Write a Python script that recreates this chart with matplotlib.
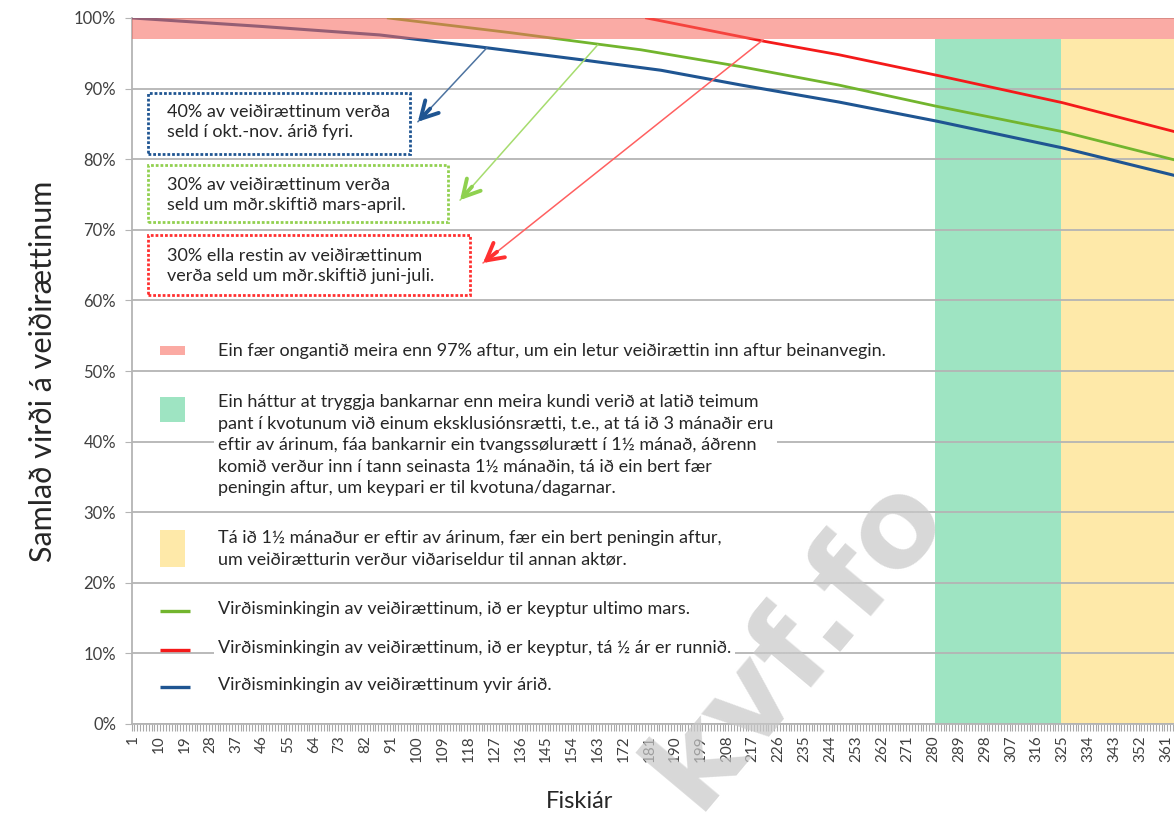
import numpy as np
import matplotlib.pyplot as plt
import matplotlib.patches as mpatches
from matplotlib.ticker import FixedLocator, FuncFormatter

plt.rcParams['font.family'] = ['Lato', 'DejaVu Sans']

# days of the fishing year and value remaining (%) for each purchase time
days = np.arange(1, 366)
blue_days = [1, 46, 87, 122, 157, 185, 213, 247, 281, 325, 365]
blue_vals = [100, 98.8, 97.6, 95.9, 94.1, 92.6, 90.5, 88.1, 85.4, 81.6, 77.6]
green_days = [90, 133, 163, 178, 213, 247, 281, 325, 365]
green_vals = [100, 97.9, 96.3, 95.5, 93.1, 90.5, 87.5, 83.9, 79.8]
red_days = [180, 221, 247, 281, 325, 365]
red_vals = [100, 96.7, 94.8, 91.9, 88.0, 83.8]

cap_level = 97                 # never more than 97% back
pledge_days = (281, 324)       # banks' forced-sale window
last_days = (325, 365)         # last 1½ month

tick_days = list(range(1, 366, 9))
y_ticks = list(range(0, 101, 10))

c_blue = "#1f5592"
c_green = "#72b52e"
c_red = "#f41a1a"
c_pink = "#f7665c"
c_mint = "#9ee4c2"
c_sand = "#fee9a9"
c_text = "#262626"
fs = 13

fig = plt.figure(figsize=(11.74, 8.18), dpi=100)
ax = fig.add_axes([131.5 / 1174, 94 / 818, 1047.3 / 1174, 706 / 818])

ax.axvspan(pledge_days[0] - 0.5, pledge_days[1] + 0.5, ymax=cap_level / 100,
           color=c_mint, lw=0, zorder=1)
ax.axvspan(last_days[0] - 0.5, last_days[1] + 0.5, ymax=cap_level / 100,
           color=c_sand, lw=0, zorder=1)

ax.plot(blue_days, blue_vals, color=c_blue, lw=2.2, zorder=3)
ax.plot(green_days, green_vals, color=c_green, lw=2.0, zorder=3)
ax.plot(red_days, red_vals, color=c_red, lw=2.0, zorder=3)

ax.fill_between([0.5, 365.5], cap_level, 100, color=c_pink, alpha=0.55,
                lw=0, zorder=4)

ax.set_xlim(0.5, 365.5)
ax.set_ylim(0, 100)

# axes, grid and ticks
ax.set_axisbelow('line')
ax.yaxis.grid(True, color="#b4b4b4", lw=1.3)
for s in ['top', 'right']:
    ax.spines[s].set_visible(False)
for s in ['left', 'bottom']:
    ax.spines[s].set_color("#b4b4b4")
    ax.spines[s].set_linewidth(1.3)

ax.yaxis.set_major_locator(FixedLocator(y_ticks))
ax.yaxis.set_major_formatter(FuncFormatter(lambda v, p: "{:.0f}%".format(v)))
ax.tick_params(axis='y', length=5, color="#b4b4b4", labelsize=12,
               labelcolor="#404040", pad=6)

ax.xaxis.set_major_locator(FixedLocator(tick_days))
ax.xaxis.set_major_formatter(FuncFormatter(lambda v, p: "{:.0f}".format(v)))
ax.xaxis.set_minor_locator(FixedLocator(np.append(days - 0.5, 365.5)))
ax.tick_params(axis='x', which='major', length=0, labelsize=11,
               labelcolor="#404040", labelrotation=90, pad=8)
ax.tick_params(axis='x', which='minor', length=5, color="#a8a8a8", width=0.8)

ax.set_ylabel("Samlað virði á veiðirættinum", fontsize=22, color=c_text,
              labelpad=12)
fig.text(580 / 1174, 1 - 802 / 818, "Fiskiár", fontsize=17, color=c_text,
         ha='center', va='center')

# dotted call-out boxes with arrows pointing from the curves
boxes = [
    ((6.2, 80.7), 91.3, 8.7, c_blue, (12.9, 85.3),
     "40% av veiðirættinum verða\nseld í okt.-nov. árið fyri.",
     (124.4, 95.8), (100.3, 85.3), "#4d73a0"),
    ((6.2, 71.1), 104.6, 8.1, "#92d050", (12.9, 74.9),
     "30% av veiðirættinum verða\nseld um mðr.skiftið mars-april.",
     (163.0, 96.2), (115.0, 74.2), "#a6dc6e"),
    ((6.2, 60.8), 112.3, 8.5, "#ff3030", (12.9, 64.9),
     "30% ella restin av veiðirættinum\nverða seld um mðr.skiftið juni-juli.",
     (220.6, 96.9), (123.0, 65.3), "#ff6060"),
]
for (xy, w, h, ec, txy, txt, a_from, a_to, a_col) in boxes:
    ax.add_patch(mpatches.Rectangle(xy, w, h, fill=True, fc='white', ec=ec,
                                    lw=2.0, ls=(0, (1, 0.7)), zorder=5))
    ax.text(txy[0], txy[1], txt, fontsize=fs, color=c_text, va='center',
            ha='left', linespacing=1.3, zorder=6)
    ax.annotate('', xy=a_to, xytext=a_from,
                arrowprops=dict(arrowstyle='-', color=a_col, lw=1.1,
                                shrinkA=0, shrinkB=0), zorder=6)
    p0 = ax.transData.transform(a_from)
    p1 = ax.transData.transform(a_to)
    d = (p0 - p1) / np.hypot(*(p0 - p1))
    back = ax.transData.inverted().transform(p1 + d * 18)
    ax.annotate('', xy=a_to, xytext=back,
                arrowprops=dict(arrowstyle='->,head_length=1.0,head_width=0.55',
                                color=ec if ec != "#92d050" else "#8fd14f",
                                lw=2.8, mutation_scale=12,
                                shrinkA=0, shrinkB=0), zorder=7)

# explanation keys
white = dict(fc='white', ec='none', pad=3)
ax.add_patch(mpatches.Rectangle((10.4, 52.3), 8.7, 1.3, color="#fbaaa3",
                                lw=0, zorder=5))
ax.text(30.6, 52.9, "Ein fær ongantið meira enn 97% aftur, um ein letur "
        "veiðirættin inn aftur beinanvegin.", fontsize=fs, color=c_text,
        va='center', zorder=5, bbox=white)

ax.add_patch(mpatches.Rectangle((10.4, 42.8), 8.7, 3.5, color=c_mint,
                                lw=0, zorder=5))
ax.text(30.6, 46.7, "Ein háttur at tryggja bankarnar enn meira kundi verið at "
        "latið teimum\npant í kvotunum við einum eksklusiónsrætti, t.e., at "
        "tá ið 3 mánaðir eru\neftir av árinum, fáa bankarnir ein "
        "tvangssølurætt í 1½ mánað, áðrenn\nkomið verður inn í tann seinasta "
        "1½ mánaðin, tá ið ein bert fær\npeningin aftur, um keypari er til "
        "kvotuna/dagarnar.", fontsize=fs, color=c_text, va='top',
        linespacing=1.42, zorder=5, bbox=white)

ax.add_patch(mpatches.Rectangle((10.4, 22.2), 8.7, 5.3, color=c_sand,
                                lw=0, zorder=5))
ax.text(30.6, 27.5, "Tá ið 1½ mánaður er eftir av árinum, fær ein bert "
        "peningin aftur,\num veiðirætturin verður viðariseldur til annan "
        "aktør.", fontsize=fs, color=c_text, va='top', linespacing=1.42,
        zorder=5, bbox=white)

keys = [(16.0, c_green, "Virðisminkingin av veiðirættinum, ið er keyptur "
         "ultimo mars."),
        (10.5, c_red, "Virðisminkingin av veiðirættinum, ið er keyptur, "
         "tá ½ ár er runnið."),
        (5.2, c_blue, "Virðisminkingin av veiðirættinum yvir árið.")]
for yk, col, lab in keys:
    ax.plot([10.4, 20.9], [yk, yk], color=col, lw=2.4, zorder=6,
            solid_capstyle='butt')
    ax.text(30.6, yk + 0.3, lab, fontsize=fs, color=c_text, va='center',
            zorder=5, bbox=white)

# site mark
fig.text(948 / 1174, 1 - 512 / 818, "kvf.fo", fontsize=88,
         family='DejaVu Sans', fontweight='bold', color="#c8c8c8", alpha=0.7,
         rotation=50, rotation_mode='anchor', ha='right', va='baseline',
         zorder=20)

fig.savefig("out.png", dpi=100)
